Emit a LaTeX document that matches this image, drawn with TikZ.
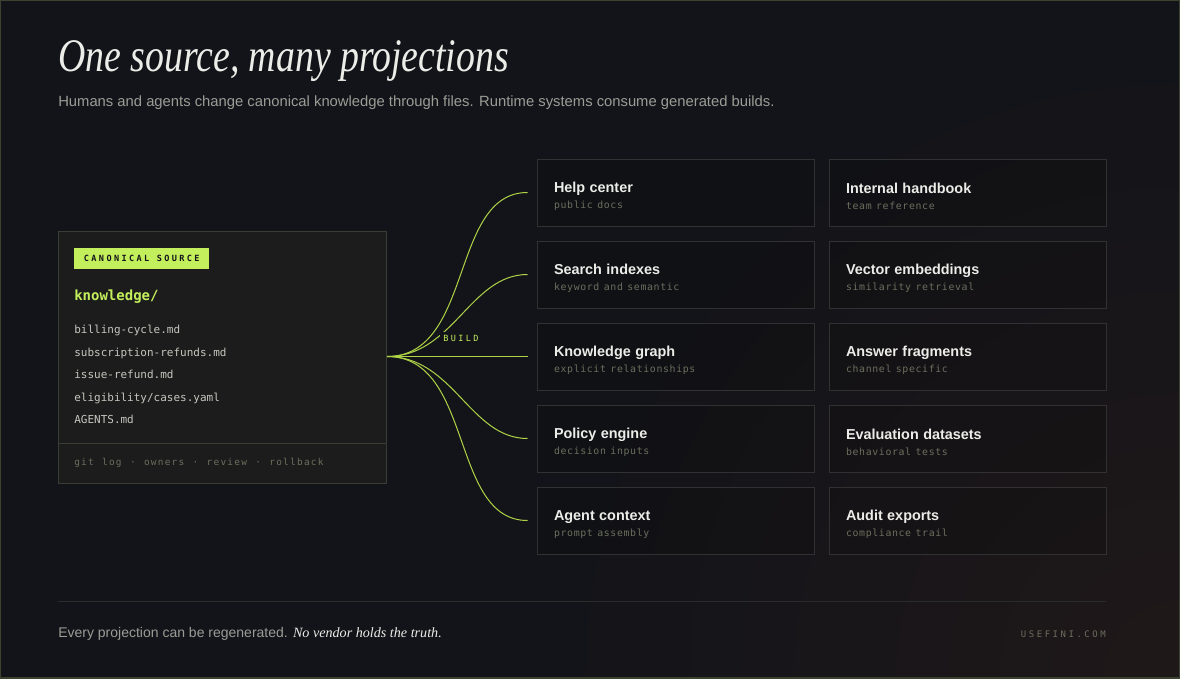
\documentclass[tikz,border=0pt]{standalone}
\usepackage{fontspec}
\setmainfont{Liberation Sans}
\newfontfamily\serifit{Liberation Serif}
\newfontfamily\mono{DejaVu Sans Mono}
\newfontfamily\monosub[LetterSpace=6.5,WordSpace=1.6]{DejaVu Sans Mono}
\newfontfamily\monotrail[LetterSpace=13,WordSpace=1.2]{DejaVu Sans Mono}
\newfontfamily\monowide[LetterSpace=28]{DejaVu Sans Mono}
\usepackage{tikz}
\usetikzlibrary{shapes,arrows}
\usetikzlibrary{positioning,fit}

\definecolor{bg}{HTML}{131419}
\definecolor{warm}{HTML}{1F1819}
\definecolor{frameline}{HTML}{3C4230}
\definecolor{lime}{HTML}{C4EF5C}
\definecolor{limeline}{HTML}{AFD346}
\definecolor{headc}{HTML}{ECECE8}
\definecolor{subc}{HTML}{9C9C96}
\definecolor{notec}{HTML}{6C6E5E}
\definecolor{filec}{HTML}{C6C6C0}
\definecolor{boxfill}{HTML}{1B1C1B}
\definecolor{boxline}{HTML}{3A3D33}
\definecolor{cardline}{HTML}{303130}
\definecolor{rulec}{HTML}{2A2B2B}

\newcommand{\cardhead}[1]{{\fontsize{10.8}{12}\selectfont\bfseries\color{headc}\rule{0pt}{13.5pt}#1}}
\newcommand{\cardnote}[1]{{\fontsize{7.4}{9}\selectfont\monosub\color{notec}#1}}

\tikzstyle{card} = [draw=cardline, line width=0.75pt, fill=black, fill opacity=0.12,
    text opacity=1, minimum width=207.75pt, minimum height=50.25pt,
    text width=182.25pt, inner xsep=12.75pt, align=left, node distance=61.5pt]
\tikzstyle{srcbox} = [draw=boxline, line width=0.75pt, fill=boxfill,
    minimum width=246pt, minimum height=189pt, inner sep=0pt]
\tikzstyle{badge} = [fill=lime, minimum width=101.25pt, minimum height=15.75pt,
    inner sep=0pt, font=\fontsize{6.4}{7}\selectfont\monowide\bfseries, text=bg]
\tikzstyle{file} = [anchor=base west, inner sep=0pt, text=filec,
    font=\fontsize{8.25}{10}\selectfont\mono]
\tikzstyle{flow} = [draw=limeline, line width=0.75pt, shorten >=6.75pt]

\begin{document}
\begin{tikzpicture}[x=0.75pt, y=-0.75pt, node distance=61.5pt]
  \useasboundingbox (0,0) rectangle (1180,678);
  % backdrop
  \fill[bg] (0,0) rectangle (1180,678);
  \begin{scope}
    \clip (0,0) rectangle (1180,678);
    \shade[inner color=warm, outer color=bg] (1180,678) circle (620);
  \end{scope}
  \draw[frameline, line width=1.5pt] (0,0) rectangle (1180,678);

  % heading
  \node [anchor=base west, inner sep=0pt, text=headc] (title) at (58,71)
  {\scalebox{0.81}[1]{\fontsize{35}{36}\selectfont\serifit\itshape One source, many projections}};
  \node [anchor=base west, inner sep=0pt, text=subc] (lede) at (58,106)
  {\fontsize{11.1}{13}\selectfont Humans and agents change canonical knowledge through files. Runtime systems consume generated builds.};

  % canonical source
  \node [srcbox] (src) at (222,357) {};
  \draw [boxline, line width=0.75pt] ([yshift=30pt]src.south west) -- ([yshift=30pt]src.south east);
  \node [badge, anchor=north west] (tag) at (74,248) {CANONICAL SOURCE};
  \node [anchor=base west, inner sep=0pt, text=lime] (root) at (74,300)
  {\fontsize{10.5}{12}\selectfont\mono\bfseries knowledge/};
  \node [file] (f1) at (74,333) {billing-cycle.md};
  \node [file] (f2) at (74,356) {subscription-refunds.md};
  \node [file] (f3) at (74,378) {issue-refund.md};
  \node [file] (f4) at (74,401) {eligibility/cases.yaml};
  \node [file] (f5) at (74,423) {AGENTS.md};
  \node [anchor=base west, inner sep=0pt, text=notec] (trail) at (74,465)
  {\fontsize{7.1}{9}\selectfont\monotrail git log · owners · review · rollback};

  % projections
  \node [card] (help) at (675.5,192.5) {\cardhead{Help center}\\\cardnote{public docs}};
  \node [card, below of=help] (search) {\cardhead{Search indexes}\\\cardnote{keyword and semantic}};
  \node [card, below of=search] (kgraph) {\cardhead{Knowledge graph}\\\cardnote{explicit relationships}};
  \node [card, below of=kgraph] (policy) {\cardhead{Policy engine}\\\cardnote{decision inputs}};
  \node [card, below of=policy] (agent) {\cardhead{Agent context}\\\cardnote{prompt assembly}};
  \node [card, right of=help, node distance=219pt] (handbook) {\cardhead{Internal handbook}\\\cardnote{team reference}};
  \node [card, below of=handbook] (vectors) {\cardhead{Vector embeddings}\\\cardnote{similarity retrieval}};
  \node [card, below of=vectors] (answers) {\cardhead{Answer fragments}\\\cardnote{channel specific}};
  \node [card, below of=answers] (evals) {\cardhead{Evaluation datasets}\\\cardnote{behavioral tests}};
  \node [card, below of=evals] (audit) {\cardhead{Audit exports}\\\cardnote{compliance trail}};

  % build fan-out
  \coordinate (hub) at (387,356.5);
  \draw [flow] (hub) to[out=0,in=180] (help.west);
  \draw [flow] (hub) to[out=0,in=180] (search.west);
  \draw [flow] (hub) -- (kgraph.west);
  \draw [flow] (hub) to[out=0,in=180] (policy.west);
  \draw [flow] (hub) to[out=0,in=180] (agent.west);
  \node [fill=bg, inner sep=2.5pt, text=lime, font=\fontsize{6.4}{7}\selectfont\monowide] (build) at (461,338) {BUILD};

  % footer
  \draw [rulec, line width=0.75pt] (58,601) -- (1106,601);
  \node [anchor=base west, inner sep=0pt, text=subc] (foot) at (58,637)
  {\fontsize{10.5}{12}\selectfont Every projection can be regenerated. {\color{headc}\serifit\itshape\fontsize{10.6}{12}\selectfont No vendor holds the truth.}};
  \node [anchor=base east, inner sep=0pt, text=notec] (site) at (1106,637)
  {\fontsize{6.75}{8}\selectfont\monowide USEFINI.COM};
\end{tikzpicture}
\end{document}
